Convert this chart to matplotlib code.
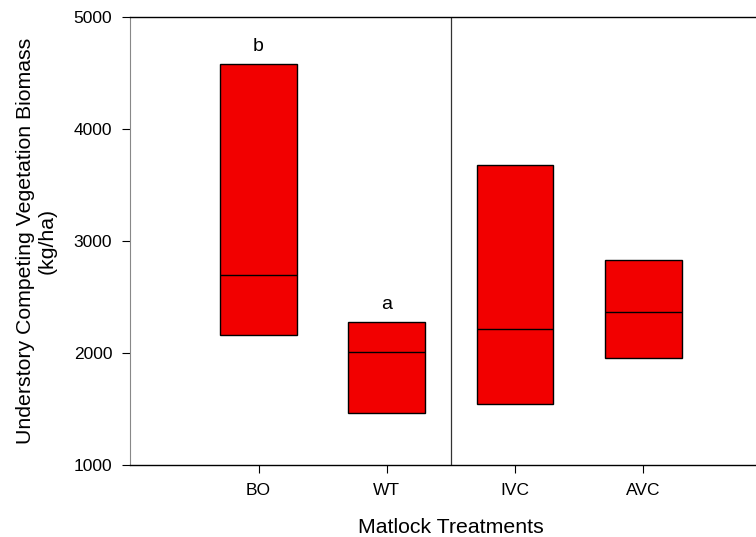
import matplotlib.pyplot as plt

plt.rcParams["font.family"] = ["Liberation Sans", "DejaVu Sans"]

treatments = ["BO", "WT", "IVC", "AVC"]
low = [2167, 1467, 1544, 1955]
median = [2703, 2009, 2214, 2366]
high = [4580, 2280, 3680, 2831]
letters = ["b", "a", "", ""]

fig = plt.figure(figsize=(7.56, 5.37), dpi=100)
ax = fig.add_axes([0.1724, 0.1335, 0.848, 0.8343])

pos = list(range(1, len(treatments) + 1))
width = 0.6
heights = [h - l for h, l in zip(high, low)]
ax.bar(pos, heights, width=width, bottom=low, color="#f20000",
       edgecolor="black", linewidth=1.0)
ax.hlines(median, [p - width / 2 for p in pos], [p + width / 2 for p in pos],
          color="black", linewidth=1.0)

for p, h, s in zip(pos, high, letters):
    if s:
        ax.text(p, h + 80, s, ha="center", va="bottom", fontsize=14)

# divider between the two groups
ax.axvline(2.5, color="#333333", linewidth=0.9)

ax.set_xlim(0, 5)
ax.set_ylim(1000, 5000)
ax.set_xticks(pos)
ax.set_xticklabels(treatments)
ax.set_yticks([1000, 2000, 3000, 4000, 5000])
ax.tick_params(labelsize=12.5, length=6, width=0.8, pad=7)

ax.spines["left"].set_color("#888888")
ax.spines["right"].set_visible(False)
for s in ["top", "bottom"]:
    ax.spines[s].set_linewidth(1.0)

ax.set_xlabel("Matlock Treatments", fontsize=15.3, labelpad=14)
ax.set_ylabel("Understory Competing Vegetation Biomass\n(kg/ha)",
              fontsize=15.3, labelpad=12)

fig.savefig("out.png", dpi=100)
